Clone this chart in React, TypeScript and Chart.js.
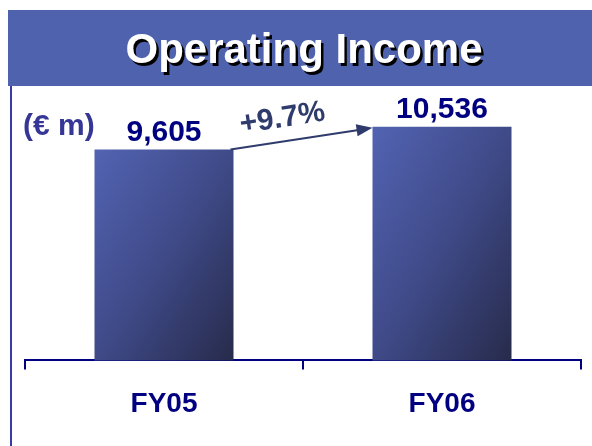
import React, { useEffect, useRef } from "react";
import { Chart, registerables } from "chart.js";

Chart.register(...registerables);

const titleText = "Operating Income";
const unitLabel = "(€ m)";
const categories = ["FY05", "FY06"];
const operatingIncome = [9605, 10536];
const yMin = 1000;
const yMax = 12200;

const FONT = '"Liberation Sans", Arial, sans-serif';
const NAVY = "#000080";

function fmt(n: number): string {
  return String(n).replace(/\B(?=(\d{3})+(?!\d))/g, ",");
}

export default function App() {
  const ref = useRef<HTMLCanvasElement>(null);

  useEffect(() => {
    const canvas = ref.current;
    if (!canvas) return;

    const decor = {
      id: "decor",
      beforeDraw(chart: any) {
        const ctx = chart.ctx;
        ctx.save();
        ctx.fillStyle = "#ffffff";
        ctx.fillRect(0, 0, chart.width, chart.height);
        ctx.fillStyle = "#4f62ae";
        ctx.fillRect(8, 10, chart.width - 8, 76);
        ctx.fillStyle = "#3a3aa6";
        ctx.fillRect(10, 86, 2, chart.height - 86);
        ctx.font = `bold 42px ${FONT}`;
        ctx.textAlign = "center";
        ctx.textBaseline = "alphabetic";
        ctx.fillStyle = "#000000";
        ctx.fillText(titleText, 306.5, 65.5);
        ctx.fillStyle = "#ffffff";
        ctx.fillText(titleText, 304, 63);
        ctx.font = `bold 30px ${FONT}`;
        ctx.textAlign = "left";
        ctx.fillStyle = "#363696";
        ctx.fillText(unitLabel, 23, 135);
        ctx.restore();
      },
      afterDatasetsDraw(chart: any) {
        const meta = chart.getDatasetMeta(0);
        const ctx = chart.ctx;
        ctx.save();
        ctx.font = `bold 30px ${FONT}`;
        ctx.fillStyle = NAVY;
        ctx.textAlign = "center";
        ctx.textBaseline = "alphabetic";
        meta.data.forEach((bar: any, i: number) => {
          ctx.fillText(fmt(operatingIncome[i]), bar.x, bar.y - 8.5);
        });
        const b0 = meta.data[0];
        const b1 = meta.data[1];
        const x0 = b0.x + b0.width / 2 - 3;
        const y0 = b0.y;
        const x1 = b1.x - b1.width / 2;
        const y1 = b1.y + 1;
        const ang = Math.atan2(y1 - y0, x1 - x0);
        const headLen = 16;
        const headHalf = 6;
        const col = "#2f3b6c";
        ctx.strokeStyle = col;
        ctx.fillStyle = col;
        ctx.lineWidth = 2;
        ctx.beginPath();
        ctx.moveTo(x0, y0);
        ctx.lineTo(x1 - Math.cos(ang) * (headLen - 2), y1 - Math.sin(ang) * (headLen - 2));
        ctx.stroke();
        ctx.beginPath();
        ctx.moveTo(x1, y1);
        const bx = x1 - Math.cos(ang) * headLen;
        const by = y1 - Math.sin(ang) * headLen;
        ctx.lineTo(bx + Math.sin(ang) * headHalf, by - Math.cos(ang) * headHalf);
        ctx.lineTo(bx - Math.sin(ang) * headHalf, by + Math.cos(ang) * headHalf);
        ctx.closePath();
        ctx.fill();
        const pct = ((operatingIncome[1] / operatingIncome[0]) - 1) * 100;
        const label = `+${pct.toFixed(1)}%`;
        const mx = (x0 + x1) / 2 - 19;
        const my = (y0 + y1) / 2 - 20;
        ctx.translate(mx, my);
        ctx.rotate(ang);
        ctx.font = `bold 30px ${FONT}`;
        ctx.textAlign = "center";
        ctx.textBaseline = "middle";
        ctx.fillStyle = col;
        ctx.fillText(label, 0, 0);
        ctx.restore();
      },
    };

    const chart = new Chart(canvas, {
      type: "bar",
      data: {
        labels: categories,
        datasets: [
          {
            data: operatingIncome,
            categoryPercentage: 1,
            barPercentage: 0.5,
            borderWidth: 0,
            backgroundColor: (c: any) => {
              const ch = c.chart;
              const area = ch.chartArea;
              if (!area || c.type !== "data") return "#3d4885";
              const xs = ch.scales.x;
              const ys = ch.scales.y;
              const cx = xs.getPixelForValue(c.dataIndex);
              const w = (xs.width / categories.length) * 0.5;
              const left = cx - w / 2;
              const top = ys.getPixelForValue(c.raw);
              const bottom = ys.getPixelForValue(yMin);
              const h = bottom - top;
              const s = (2 * w * h) / (h * h + w * w);
              const g = ch.ctx.createLinearGradient(left, top, left + h * s, top + w * s);
              g.addColorStop(0, "#5263b2");
              g.addColorStop(0.5, "#3f4a88");
              g.addColorStop(1, "#272b4b");
              return g;
            },
          },
        ],
      },
      options: {
        responsive: false,
        animation: false,
        devicePixelRatio: 1,
        layout: { padding: { top: 86, left: 25, right: 11, bottom: 7 } },
        plugins: {
          legend: { display: false },
          title: { display: false },
          tooltip: { enabled: false },
        },
        scales: {
          x: {
            offset: true,
            grid: {
              display: true,
              offset: true,
              drawOnChartArea: false,
              drawTicks: true,
              tickLength: 9,
              lineWidth: 2,
              color: NAVY,
            },
            border: { display: true, color: NAVY, width: 2 },
            ticks: {
              color: NAVY,
              padding: 18,
              font: { family: FONT, size: 28, weight: "bold" },
            },
          },
          y: {
            display: false,
            min: yMin,
            max: yMax,
          },
        },
      },
      plugins: [decor],
    });

    return () => chart.destroy();
  }, []);

  return (
    <div style={{ position: "absolute", left: 0, top: 0, width: 592, height: 446 }}>
      <canvas ref={ref} width={592} height={446} style={{ display: "block", width: 592, height: 446 }} />
    </div>
  );
}
